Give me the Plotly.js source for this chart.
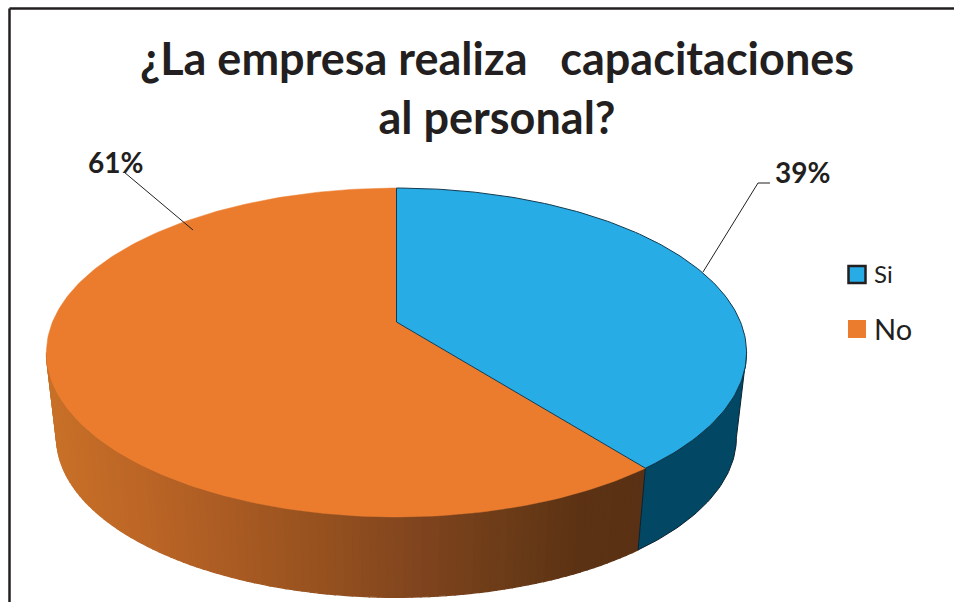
<!DOCTYPE html>
<html><head><meta charset="utf-8">
<script src="https://cdn.plot.ly/plotly-3.0.1.min.js"></script>
<style>html,body{margin:0;padding:0;background:#fff}#c{width:954px;height:602px}</style>
</head><body><div id="c"></div>
<script>
const categories = ['Si', 'No'];
const values = [39.4, 60.6];
const faceColors = ['#27ACE5', '#EB7C2E'];
const wallBlue = '#024763';
const wallStops = [[50,[200,112,40]],[150,[186,100,38]],[320,[150,81,31]],[420,[127,68,30]],[520,[105,58,23]],[580,[92,50,20]],[650,[90,49,20]]];

// perspective disc
const top_ = {cx:396.5, y0:322, A:344, B:158.8};
const bot_ = {cx:396.5, y0:408, A:334, B:154.2};
const k = 0.1854;
const deg = Math.PI/180;
function P(g, t){const w=1+k*Math.cos(t*deg);return [g.cx+g.A*Math.sin(t*deg)/w, g.y0-g.B*Math.cos(t*deg)/w];}
function range(a,b,step){const r=[];const n=Math.max(1,Math.ceil((b-a)/step));for(let i=0;i<=n;i++)r.push(a+(b-a)*i/n);return r;}
function wallColor(x){
  let s=wallStops;
  if(x<=s[0][0])return 'rgb('+s[0][1]+')';
  for(let i=1;i<s.length;i++){ if(x<=s[i][0]){const f=(x-s[i-1][0])/(s[i][0]-s[i-1][0]);
    return 'rgb('+s[i][1].map((c,j)=>Math.round(s[i-1][1][j]+(c-s[i-1][1][j])*f)).join(',')+')';}}
  return 'rgb('+s[s.length-1][1]+')';
}
const total = values.reduce((a,b)=>a+b,0);
const split = values[0]/total*360;
const tanA = Math.acos(-k)/deg, tanB = 360-tanA;
const traces = [];
function poly(xs,ys,fill,line,lw){traces.push({type:'scatter',mode:'lines',x:xs,y:ys,fill:'toself',fillcolor:fill,
  line:{color:line,width:lw},hoverinfo:'skip',showlegend:false});}
// orange wall strips
const ts = range(split,tanB,1.2);
for(let i=0;i<ts.length-1;i++){
  const a=P(top_,ts[i]),b=P(top_,ts[i+1]),c=P(bot_,ts[i+1]),d=P(bot_,ts[i]);
  const col=wallColor((a[0]+b[0])/2);
  poly([a[0],b[0],c[0],d[0],a[0]],[a[1],b[1],c[1],d[1],a[1]],col,col,1.3);
}
// blue wall
{
  const t=range(tanA,split,1);
  const up=t.map(v=>P(top_,v)),lo=t.map(v=>P(bot_,v)).reverse();
  const all=up.concat(lo);all.push(up[0]);
  poly(all.map(p=>p[0]),all.map(p=>p[1]),wallBlue,'#0b2230',1);
}
// top faces
function face(a,b,line,lw){
  const arc=range(a,b,1).map(v=>P(top_,v));
  const xs=[top_.cx].concat(arc.map(p=>p[0]),[top_.cx]);
  const ys=[top_.y0].concat(arc.map(p=>p[1]),[top_.y0]);
  return [xs,ys,line,lw];
}
let f=face(split,360,faceColors[1],0.5); poly(f[0],f[1],faceColors[1],f[2],f[3]);
f=face(0,split,'#123a50',1); poly(f[0],f[1],faceColors[0],f[2],f[3]);
// legend markers
traces.push({type:'scatter',mode:'markers',x:[857],y:[274.5],marker:{symbol:'square',size:17,color:faceColors[0],line:{color:'#231F20',width:2.5}},hoverinfo:'skip',showlegend:false});
traces.push({type:'scatter',mode:'markers',x:[857],y:[329],marker:{symbol:'square',size:18,color:faceColors[1],line:{width:0}},hoverinfo:'skip',showlegend:false});

const ink='#231F20', font='Lato, "Open Sans", sans-serif';
const pct=v=>Math.round(v/total*100)+'%';
const ann=(x,y,text,size,bold,anchor)=>({x,y,xref:'x',yref:'y',text:bold?'<b>'+text+'</b>':text,showarrow:false,xanchor:anchor||'center',yanchor:'middle',font:{family:font,size,color:ink}});
const seg=(pts,w)=>pts.slice(1).map((p,i)=>({type:'line',xref:'x',yref:'y',x0:pts[i][0],y0:pts[i][1],x1:p[0],y1:p[1],line:{color:ink,width:w}}));
const layout={
  width:954,height:602,margin:{l:0,r:0,t:0,b:0},paper_bgcolor:'#fff',plot_bgcolor:'#fff',
  title:{text:'<b>¿La empresa realiza \u00a0 capacitaciones<br>al personal?</b>',font:{family:font,size:45,color:ink},x:0.521,xanchor:'center',y:0.875,yanchor:'top',xref:'container',yref:'container'},
  xaxis:{range:[0,954],visible:false,fixedrange:true},
  yaxis:{range:[602,0],visible:false,fixedrange:true},
  showlegend:false,
  annotations:[
    ann(802.5,171.5,pct(values[0]),28,true),
    ann(115.5,161.5,pct(values[1]),28,true),
    ann(872,273,categories[0],24,false,'left'),
    ann(872,328,categories[1],29,false,'left')
  ],
  shapes:[
    ...seg([[9.5,602],[9.5,8.5],[954,8.5]],2.5),
    ...seg([[703,272],[758,183],[770,183]],1),
    ...seg([[124,172],[193,230]],1)
  ]
};
Plotly.newPlot('c',traces,layout,{displayModeBar:false,staticPlot:true});
</script></body></html>
